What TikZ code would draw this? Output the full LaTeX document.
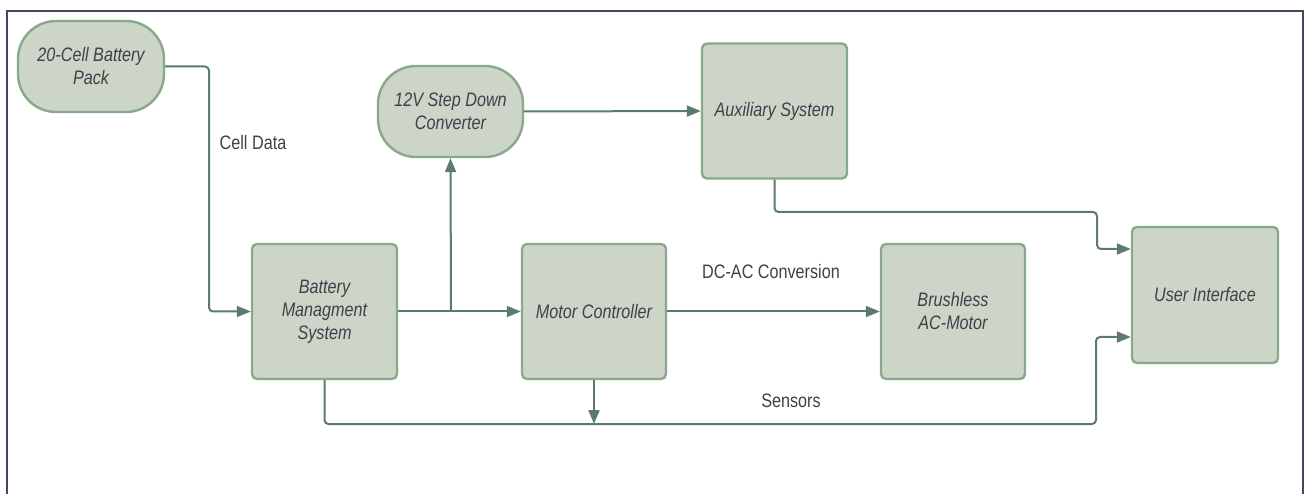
\documentclass[tikz,border=0pt]{standalone}
\usepackage{fontspec}
\setmainfont{Liberation Sans}[FakeStretch=0.83]
\usetikzlibrary{arrows.meta}

\definecolor{boxfill}{HTML}{CDD5C9}
\definecolor{boxedge}{HTML}{88A98B}
\definecolor{wire}{HTML}{5B7B70}
\definecolor{ink}{HTML}{3C4248}
\definecolor{framecol}{HTML}{3F4B5E}

\tikzset{
  blockbox/.style={draw=boxedge, fill=boxfill, line width=2.4pt, rounded corners=5pt,
    minimum width=145pt, minimum height=135pt, inner sep=0pt,
    text=ink, align=center, font=\fontsize{19.5}{23}\selectfont\itshape},
  pillbox/.style={blockbox, minimum height=91pt, rounded corners=38pt},
  conn/.style={draw=wire, line width=2pt, rounded corners=4pt},
  arr/.style={conn, -{Triangle[length=14pt,width=11pt]}},
  lbl/.style={text=ink, font=\fontsize{19.5}{23}\selectfont, inner sep=0pt},
}

\begin{document}
\begin{tikzpicture}[x=1pt, y=-1pt]
\useasboundingbox (0,0) rectangle (1307,494);
\fill[white] (0,0) rectangle (1307,494);

% outer frame, open at the bottom
\draw[framecol, line width=2pt] (7,500) -- (7,11) -- (1303,11) -- (1303,500);

% blocks
\node[pillbox, minimum width=146pt] (bat) at (91,66.5) {20-Cell Battery\\Pack};
\node[pillbox, minimum width=145pt] (step) at (450.5,111.5) {12V Step Down\\Converter};
\node[blockbox] (aux) at (774.5,111) {Auxiliary System};
\node[blockbox] (bms) at (324.5,311.5) {Battery\\Managment\\System};
\node[blockbox, minimum width=144pt] (mc) at (594,311.5) {Motor Controller};
\node[blockbox, minimum width=144pt] (bl) at (953,311.5) {Brushless\\AC-Motor};
\node[blockbox, minimum width=146pt, minimum height=136pt] (ui) at (1205,295) {User Interface};

% routing points
\coordinate (celltap) at (209,200);
\coordinate (split) at (451,311.5);
\coordinate (auxbend) at (1097,212);
\coordinate (busend) at (1096,424);
\coordinate (mctap) at (594,424);

% connectors
\draw[arr] (bat.east) -| (celltap) |- (bms.west);
\draw[arr] (bms.east) -- (mc.west);
\draw[arr] (split) -- (step.south);
\draw[arr] (step.east) -- (aux.west);
\draw[arr] (aux.south) |- (auxbend) |- ([yshift=46pt]ui.west);
\draw[arr] (mc.east) -- (bl.west);
\draw[arr] (bms.south) |- (busend) |- ([yshift=-42pt]ui.west);
\draw[arr] (mc.south) -- (mctap);

% labels
\node[lbl] (lcell) at (253,143) {Cell Data};
\node[lbl] (ldcac) at (771,272) {DC-AC Conversion};
\node[lbl] (lsens) at (791,401) {Sensors};
\end{tikzpicture}
\end{document}
